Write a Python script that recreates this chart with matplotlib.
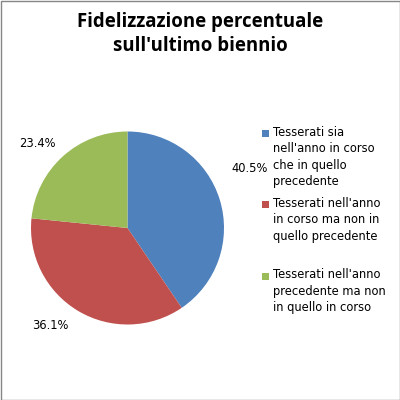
#Pie chart: fidelizzazione percentuale

import numpy as np
import matplotlib.pyplot as plt
from matplotlib.patches import Rectangle

# data
categorie = ["Tesserati sia\nnell'anno in corso\nche in quello\nprecedente",
             "Tesserati nell'anno\nin corso ma non in\nquello precedente",
             "Tesserati nell'anno\nprecedente ma non\nin quello in corso"]
percentuali = [40.5, 36.1, 23.4]
colori = ['#4F81BD', '#C0504D', '#9BBB59']
titolo = "Fidelizzazione percentuale\nsull'ultimo biennio"

W = H = 400
fig = plt.figure(figsize=(4, 4), dpi=100)

# pie axes (centre ~ (127.5, 228) px, radius ~ 96.5 px)
cx, cy, r = 127.5, 228, 96.5
ax = fig.add_axes([(cx - r) / W, (H - cy - r) / H, 2 * r / W, 2 * r / H])
wedges, _, autotexts = ax.pie(percentuali, colors=colori, startangle=90,
                              counterclock=False, autopct='%.1f%%',
                              pctdistance=1.32, radius=1,
                              wedgeprops=dict(linewidth=0))
ax.set_xlim(-1, 1)
ax.set_ylim(-1, 1)
ax.set_aspect('equal')

# Excel-like label placement: distance and angle shift from wedge middle
dist = [1.41, 1.29, 1.28]
shift = [8.7, -7.5, 5.0]
for w, t, d, s in zip(wedges, autotexts, dist, shift):
    a = np.deg2rad((w.theta1 + w.theta2) / 2 + s)
    t.set_position((d * np.cos(a), d * np.sin(a)))
    t.set_fontsize(8.3)
    t.set_fontfamily('DejaVu Sans')
    t.set_color('#000000')
    t.set_clip_on(False)

# title
fig.text(0.5, 1 - 34 / H, titolo, ha='center', va='center',
         fontsize=13.4, fontweight='bold', family='Open Sans',
         linespacing=1.25)

# legend drawn by hand so the marker sits on the first line
for i, (lab, col) in enumerate(zip(categorie, colori)):
    ytop = 133 + i * 71.5
    fig.patches.append(Rectangle((262 / W, 1 - (ytop + 3.5) / H), 7 / W, 7 / H,
                                 transform=fig.transFigure, facecolor=col,
                                 edgecolor='none'))
    fig.text(273 / W, 1 - (ytop - 7.5) / H, lab, ha='left', va='top',
             fontsize=8.3, family='DejaVu Sans', linespacing=1.35)

# chart border
fig.patches.append(Rectangle((0.5 / W, 0.5 / H), 1 - 1 / W, 1 - 1 / H,
                             transform=fig.transFigure, fill=False,
                             edgecolor='#868686', linewidth=1))

fig.savefig('out.png', dpi=100)
